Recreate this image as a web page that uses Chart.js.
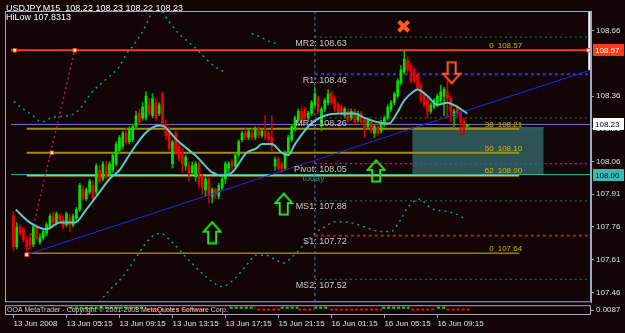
<!DOCTYPE html>
<html>
<head>
<meta charset="utf-8">
<script src="https://cdn.jsdelivr.net/npm/chart.js@4/dist/chart.umd.min.js"></script>
<style>
  html, body { margin: 0; padding: 0; background: #130505; }
  canvas { display: block; }
</style>
</head>
<body>
<canvas id="chart" width="625" height="333"></canvas>
<script>
// USDJPY M15 candles, bar index 0..137
const opens = [107.81,107.67,107.76,107.75,107.70,107.71,107.68,107.76,107.69,107.71,107.73,107.76,107.81,107.78,107.81,107.79,107.77,107.80,107.77,107.80,
  107.84,107.93,107.89,107.92,107.95,107.92,108.02,107.98,108.04,108.00,108.02,108.05,108.11,108.13,108.19,108.15,108.16,108.22,108.28,108.26,
  108.26,108.32,108.27,108.33,108.28,108.37,108.23,108.20,108.05,108.19,108.13,108.10,108.04,108.04,108.01,107.99,108.05,107.99,107.93,107.98,
  107.90,107.93,107.90,107.94,107.98,108.03,108.06,108.04,108.09,108.16,108.19,108.17,108.19,108.17,108.21,108.18,108.20,108.19,108.17,108.04,
  108.07,108.05,108.03,108.10,108.16,108.21,108.25,108.29,108.30,108.26,108.28,108.32,108.35,108.23,108.30,108.33,108.37,108.35,108.32,108.31,
  108.27,108.29,108.26,108.29,108.25,108.28,108.25,108.22,108.24,108.19,108.22,108.20,108.23,108.26,108.30,108.33,108.36,108.42,108.47,108.52,
  108.50,108.48,108.46,108.41,108.37,108.34,108.29,108.31,108.32,108.34,108.36,108.38,108.35,108.27,108.31,108.28,108.25,108.22];
const highs = [107.83,107.78,107.77,107.76,107.72,107.73,107.77,107.77,107.73,107.75,107.78,107.82,107.83,107.83,107.82,107.81,107.83,107.82,107.82,107.85,
  107.96,107.95,107.94,107.98,107.97,108.05,108.04,108.06,108.06,108.06,108.10,108.15,108.18,108.20,108.21,108.22,108.23,108.29,108.30,108.33,
  108.38,108.35,108.37,108.35,108.33,108.38,108.25,108.22,108.16,108.20,108.14,108.12,108.09,108.06,108.06,108.06,108.06,108.00,107.99,107.99,
  107.94,107.94,107.96,107.99,108.06,108.06,108.07,108.10,108.16,108.20,108.21,108.21,108.21,108.22,108.22,108.21,108.27,108.20,108.27,108.08,
  108.08,108.06,108.11,108.18,108.23,108.27,108.30,108.31,108.31,108.29,108.34,108.40,108.36,108.31,108.35,108.39,108.38,108.36,108.33,108.32,
  108.31,108.30,108.30,108.30,108.29,108.29,108.26,108.26,108.25,108.23,108.23,108.25,108.27,108.32,108.34,108.38,108.44,108.50,108.57,108.54,
  108.51,108.49,108.47,108.42,108.38,108.35,108.33,108.35,108.37,108.41,108.40,108.43,108.36,108.30,108.32,108.29,108.26,108.23];
const lows = [107.65,107.66,107.72,107.69,107.63,107.66,107.67,107.70,107.68,107.70,107.72,107.75,107.77,107.77,107.78,107.75,107.76,107.74,107.76,107.79,
  107.83,107.88,107.88,107.91,107.88,107.91,107.96,107.97,107.98,107.99,108.01,108.04,108.10,108.12,108.14,108.14,108.15,108.21,108.23,108.25,
  108.25,108.27,108.26,108.25,108.27,108.22,108.16,108.11,108.03,108.09,108.06,108.01,108.02,107.97,108.00,107.97,107.94,107.91,107.90,107.87,
  107.87,107.89,107.89,107.93,107.96,108.01,108.02,108.03,108.08,108.15,108.16,108.16,108.16,108.16,108.17,108.17,108.16,108.15,108.11,108.02,
  108.02,108.01,108.02,108.09,108.15,108.20,108.24,108.24,108.25,108.25,108.27,108.31,108.28,108.20,108.29,108.32,108.32,108.29,108.28,108.27,
  108.26,108.24,108.25,108.23,108.24,108.23,108.17,108.21,108.19,108.17,108.18,108.19,108.22,108.25,108.29,108.32,108.35,108.41,108.46,108.47,
  108.42,108.42,108.39,108.33,108.31,108.26,108.28,108.30,108.31,108.33,108.27,108.26,108.24,108.22,108.26,108.18,108.18,108.21];
const closes = [107.67,107.76,107.73,107.70,107.67,107.68,107.76,107.71,107.71,107.74,107.77,107.81,107.78,107.82,107.79,107.76,107.82,107.77,107.81,107.84,
  107.95,107.89,107.93,107.97,107.89,108.04,107.97,108.05,107.99,108.05,108.09,108.14,108.17,108.19,108.15,108.21,108.22,108.27,108.24,108.31,
  108.36,108.28,108.35,108.26,108.32,108.23,108.18,108.12,108.15,108.10,108.07,108.05,108.08,108.00,108.04,108.05,107.96,107.94,107.98,107.91,
  107.93,107.91,107.95,107.98,108.05,108.05,108.04,108.09,108.15,108.19,108.17,108.20,108.17,108.21,108.18,108.20,108.17,108.16,108.13,108.07,
  108.03,108.03,108.10,108.17,108.22,108.26,108.29,108.25,108.26,108.28,108.33,108.37,108.29,108.30,108.34,108.37,108.33,108.30,108.29,108.28,
  108.30,108.25,108.29,108.24,108.28,108.24,108.21,108.25,108.20,108.22,108.19,108.24,108.26,108.31,108.33,108.37,108.43,108.48,108.53,108.48,
  108.43,108.43,108.40,108.34,108.32,108.29,108.32,108.34,108.36,108.38,108.39,108.35,108.29,108.29,108.28,108.24,108.21,108.23];

// moving average
const maIdx = [0.7,5,10,14,18.5,22,26,29,32,35,39.8,44,45.5,49.6,55.5,60,63,66,70.4,73.3,75,78,81,83,85,89.6,94,98.5,103,106,110,113.3,115.7,118,120.7,122,125,128,131,134,137];
const maVal = [107.84,107.78,107.75,107.78,107.78,107.84,107.92,107.98,108.02,108.09,108.19,108.225,108.22,108.155,108.08,108.01,107.996,108.01,108.10,108.12,108.14,108.14,108.10,108.09,108.14,108.23,108.27,108.28,108.28,108.26,108.24,108.234,108.28,108.34,108.38,108.39,108.36,108.32,108.33,108.31,108.28];

// dotted forecast curves
const upperIdx = [0.15,2.2,5.2,8.7,12,16.1,19.4,23.9,28.9,31.9,33.9,36.9,39.9,41.6,44,46.7,50.5,54.7,58.5,60.9,63.9];
const upperVal = [108.336,108.309,108.278,108.242,108.264,108.269,108.291,108.381,108.449,108.494,108.548,108.606,108.682,108.736,108.76,108.705,108.638,108.584,108.525,108.494,108.47];
const upper2Idx = [71.9,74.8,77.2,79.3];
const upper2Val = [108.647,108.629,108.611,108.602];
const lowerIdx = [25.9,28.9,32.7,36.9,39.9,42.8,44.6,47.6,50.5,54.1,58.5,63,66.8,70.4,73.3,76.3,78.7,81.6,84.3,88.1,90.5,94.1,97,102,105.9,110.9,113.9,116.9,118.7,121.3,122.8,124.6,127.3,130.2,133.5,136.4];
const lowerVal = [107.415,107.469,107.527,107.617,107.685,107.725,107.730,107.694,107.649,107.590,107.527,107.487,107.523,107.586,107.631,107.631,107.613,107.595,107.626,107.685,107.725,107.761,107.784,107.779,107.761,107.739,107.739,107.793,107.842,107.882,107.887,107.864,107.838,107.833,107.820,107.797];

// levels
const pivotNames = ['MR2', 'R1', 'MR1', 'Pivot', 'MS1', 'S1', 'MS2'];
const pivotVals = [108.63, 108.46, 108.26, 108.05, 107.88, 107.72, 107.52];
const pivotColors = ['#1d6b3e', '#3434d8', '#1d6b3e', '#d400d4', '#1d6b3e', '#9a2222', '#1d6b3e'];
const pivotStart = 91;
const fibNames = ['0', '38', '50', '62', '0'];
const fibVals = [108.57, 108.21, 108.10, 108.00, 107.64];
const fibColors = ['#ff3c14', '#a08e16', '#a08e16', '#e0c800', '#d8c000'];
const fibStart = 4.0, fibEnd = 152.7;
const fibBoxIdx = [120.4, 160.1];
const fibBoxTop = 108.215, fibBoxBottom = 108.0;
const highLine = 108.57, bidLine = 108.23, tealLine = 108.00;
const trendIdx = [4.0, 174.37], trendVal = [107.633, 108.48];
const fibLineIdx = [4.0, 18.5], fibLineVal = [107.633, 108.57];
const handleIdx = [0.4, 18.5, 11.6, 4.0, 173.6];
const handleVal = [108.57, 108.57, 108.10, 107.633, 108.57];
const todayIdx = 91;

// arrows and marks
const upArrowIdx = [60, 81.6, 109.5], upArrowVal = [107.734, 107.865, 108.017];
const downArrowIdx = [132.3], downArrowVal = [108.467];
const crossIdx = [117.8], crossVal = [108.68];

// lower panel oscillator segments (bar index ranges)
const oscUp = [[17, 40], [65.3, 73], [80.7, 86], [90.8, 95], [111.3, 119.6], [127.9, 130.8]];
const oscDown = [[40, 58.2], [73.6, 80.7], [86, 90.8], [95.6, 111.3], [120.1, 127.3], [130.8, 137.9]];

// axes
const xTickPos = [0, 16, 32, 48, 64, 80, 96, 112, 128];
const xTickLabels = ['13 Jun 2008', '13 Jun 05:15', '13 Jun 09:15', '13 Jun 13:15', '13 Jun 17:15', '15 Jun 21:15', '16 Jun 01:15', '16 Jun 05:15', '16 Jun 09:15'];
const yTickVals = [108.66, 108.36, 108.21, 108.06, 107.91, 107.76, 107.61, 107.46];
const panelLabel = '0.0087';

const FONT = '"Liberation Sans", Arial, sans-serif';
const X_MIN = -0.74, X_MAX = 174.37, Y_MIN = 107.415, Y_MAX = 108.75;

function arrowIcon(color, down) {
  const c = document.createElement('canvas');
  c.width = 20; c.height = 24;
  const g = c.getContext('2d');
  if (down) { g.translate(0, 24); g.scale(1, -1); }
  g.beginPath();
  g.moveTo(10, 1.5); g.lineTo(18.5, 11); g.lineTo(14, 11); g.lineTo(14, 22.5);
  g.lineTo(6, 22.5); g.lineTo(6, 11); g.lineTo(1.5, 11); g.closePath();
  g.strokeStyle = color; g.lineWidth = 2; g.stroke();
  return c;
}

const pts = (xs, ys) => xs.map((x, i) => ({ x, y: ys[i] }));
const hline = (a, b, v) => [{ x: a, y: v }, { x: b, y: v }];
const segs = (list, v) => {
  const out = [];
  list.forEach(s => { out.push({ x: s[0], y: v }, { x: s[1], y: v }, { x: s[1], y: null }); });
  return out;
};

const bodyData = opens.map((o, i) => ({ x: i, y: [o, closes[i]] }));
const wickData = highs.map((h, i) => ({ x: i, y: [lows[i], h] }));
const isUp = opens.map((o, i) => closes[i] >= o);

const lineDs = (data, color, width, dash, order, extra) => Object.assign({
  type: 'line', data, borderColor: color, borderWidth: width, borderDash: dash || [],
  pointRadius: 0, fill: false, order, tension: 0
}, extra || {});

const datasets = [
  lineDs(pts(upArrowIdx, upArrowVal), 'transparent', 0, null, 0, { showLine: false, pointStyle: arrowIcon('#22e022', false), pointRadius: 10 }),
  lineDs(pts(downArrowIdx, downArrowVal), 'transparent', 0, null, 0, { showLine: false, pointStyle: arrowIcon('#ff5a1e', true), pointRadius: 10 }),
  lineDs(pts(crossIdx, crossVal), '#ff5a1e', 4, null, 0, { showLine: false, pointStyle: 'crossRot', pointRadius: 7, pointBorderWidth: 4, pointBorderColor: '#ff5a1e' }),
  lineDs(pts(handleIdx, handleVal), 'transparent', 0, null, 0, { showLine: false, pointStyle: 'rect', pointRadius: 2.5, pointBackgroundColor: '#ffffff', pointBorderColor: '#ff3c14', pointBorderWidth: 1 }),
  lineDs(hline(X_MIN, X_MAX, highLine), '#ff3c14', 2, null, 1),
  lineDs(pts(maIdx, maVal), '#5ccaca', 2, null, 2, { cubicInterpolationMode: 'monotone' }),
  lineDs(pts(trendIdx, trendVal), '#2626ea', 1, null, 2),
  {
    type: 'bar', data: bodyData, grouped: false, barThickness: 2, order: 4,
    backgroundColor: isUp.map(u => u ? '#00e400' : '#f00000'), borderWidth: 0
  },
  {
    type: 'bar', data: wickData, grouped: false, barThickness: 1, order: 5,
    backgroundColor: isUp.map(u => u ? '#00b400' : '#c80000'), borderWidth: 0
  },
  lineDs(pts(fibLineIdx, fibLineVal), '#b0204c', 1.5, [2, 3], 6),
  lineDs(pts(upperIdx, upperVal), '#239090', 1.5, [2, 4], 6, { cubicInterpolationMode: 'monotone' }),
  lineDs(pts(upper2Idx, upper2Val), '#239090', 1.5, [2, 4], 6, { cubicInterpolationMode: 'monotone' }),
  lineDs(pts(lowerIdx, lowerVal), '#239090', 1.5, [2, 4], 6, { cubicInterpolationMode: 'monotone' }),
  lineDs(hline(X_MIN, X_MAX, bidLine), '#7078c8', 1, null, 7),
  lineDs(hline(X_MIN, X_MAX, tealLine), '#3cb4ae', 1, null, 7),
  lineDs([{ x: todayIdx, y: Y_MAX }, { x: todayIdx, y: Y_MIN }], '#5a72b4', 1, [3, 3], 7),
  lineDs([{ x: 174, y: Y_MAX }, { x: 174, y: 108.48 }], '#ffffff', 3, null, 7),
  lineDs(segs(oscUp, 7.5), '#10d010', 2, [3, 2], 7, { yAxisID: 'y2', spanGaps: false }),
  lineDs(segs(oscDown, 5.5), '#e01010', 2, [3, 2], 7, { yAxisID: 'y2', spanGaps: false }),
  lineDs(hline(fibBoxIdx[0], fibBoxIdx[1], fibBoxTop), '#3a6868', 1, null, 10,
    { fill: { value: fibBoxBottom }, backgroundColor: '#2c5455' })
];

pivotVals.forEach((v, k) => {
  const dotted = k === 1 || k === 5 ? [3, 3] : [2, 3];
  const w = k === 1 || k === 5 ? 2 : 1.2;
  datasets.push(lineDs(hline(pivotStart, X_MAX, v), pivotColors[k], w, dotted, 8));
});
fibVals.forEach((v, k) => {
  if (k === 0) return;
  const w = k === 4 ? 1 : 2;
  datasets.push(lineDs(hline(fibStart, fibEnd, k === 3 ? v - 0.004 : v), fibColors[k], w, null, 7));
});

const decor = {
  id: 'decor',
  beforeDraw(chart) {
    const ctx = chart.ctx;
    ctx.save();
    ctx.fillStyle = '#130505';
    ctx.fillRect(0, 0, chart.width, chart.height);
    ctx.restore();
  },
  afterDatasetsDraw(chart) {
    const { ctx, scales } = chart;
    const x = scales.x, y = scales.y, y2 = scales.y2;
    ctx.save();
    // frames
    ctx.strokeStyle = '#a4a8c8';
    ctx.lineWidth = 1;
    ctx.strokeRect(5.5, y.top + 0.5, x.right - 6, y.bottom - y.top - 1);
    ctx.strokeRect(5.5, y2.getPixelForValue(10) + 0.5, x.right - 6, y2.getPixelForValue(0) - y2.getPixelForValue(10) - 1);

    // top-left info
    ctx.fillStyle = '#ffffff';
    ctx.font = '9px ' + FONT;
    ctx.textBaseline = 'middle';
    ctx.textAlign = 'left';
    ctx.fillText('USDJPY,M15  108.22 108.23 108.22 108.23', 6, 9);
    ctx.fillText('HiLow 107.8313', 6, 18);

    // pivot labels
    ctx.fillStyle = '#c8c8c8';
    ctx.textAlign = 'right';
    pivotVals.forEach((v, k) => {
      ctx.fillText(pivotNames[k] + ': ' + v.toFixed(2), x.getPixelForValue(100.6), y.getPixelForValue(v) + 6);
    });
    ctx.textAlign = 'left';
    ctx.fillStyle = '#2a8c8c';
    ctx.fillText('today', x.getPixelForValue(87.3), y.getPixelForValue(pivotVals[3]) + 15);

    // fib labels
    ctx.font = '8px ' + FONT;
    ctx.fillStyle = '#d2b800';
    fibVals.forEach((v, k) => {
      const py = y.getPixelForValue(v) - 4;
      ctx.textAlign = 'right';
      ctx.fillText(fibNames[k], x.getPixelForValue(145), py);
      ctx.textAlign = 'left';
      ctx.fillText(v.toFixed(2), x.getPixelForValue(146.2), py);
    });

    // copyright in lower panel
    ctx.font = '7px ' + FONT;
    ctx.fillStyle = '#d0d0d0';
    ctx.textAlign = 'left';
    ctx.fillText('OOA MetaTrader - Copyright \u00a9 2001-2008 MetaQuotes Software Corp.', 7, y2.getPixelForValue(5));

    // price boxes on the axis
    const box = (v, bg, fg) => {
      const py = Math.round(y.getPixelForValue(v));
      ctx.fillStyle = bg;
      ctx.fillRect(x.right + 2, py - 6, 31, 12);
      ctx.fillStyle = fg;
      ctx.font = '8px ' + FONT;
      ctx.textAlign = 'left';
      ctx.fillText(v.toFixed(2), x.right + 4, py + 0.5);
    };
    box(highLine, '#ff3c14', '#ffffff');
    box(bidLine, '#ffffff', '#000000');
    box(tealLine, '#40b8b0', '#10104a');
    ctx.restore();
  }
};

Chart.defaults.font.family = FONT;

new Chart(document.getElementById('chart'), {
  type: 'bar',
  data: { datasets },
  plugins: [decor],
  options: {
    responsive: false,
    animation: false,
    devicePixelRatio: 1,
    layout: { padding: { top: 5, left: 0, right: 0, bottom: 0 } },
    plugins: { legend: { display: false }, tooltip: { enabled: false } },
    scales: {
      x: {
        type: 'linear', position: 'bottom', min: X_MIN, max: X_MAX, offset: false,
        afterBuildTicks: s => { s.ticks = xTickPos.map(v => ({ value: v })); },
        afterFit: s => { s.height = 18; },
        ticks: {
          align: 'start', maxRotation: 0, autoSkip: false, padding: 1, color: '#e0e0e0',
          font: { size: 8 },
          callback: v => xTickLabels[xTickPos.indexOf(v)]
        },
        grid: { drawOnChartArea: false, offset: false, tickLength: 3, color: '#a4a8c8' },
        border: { display: false }
      },
      y: {
        type: 'linear', position: 'right', stack: 'v', stackWeight: 297,
        min: Y_MIN, max: Y_MAX,
        afterBuildTicks: s => { s.ticks = yTickVals.map(v => ({ value: v })); },
        afterFit: s => { s.width = 34; },
        ticks: { color: '#e0e0e0', padding: 2, font: { size: 8 }, callback: v => v.toFixed(2) },
        grid: { drawOnChartArea: false, tickLength: 3, color: '#a4a8c8' },
        border: { display: true, color: '#a4a8c8' }
      },
      y2: {
        type: 'linear', position: 'right', stack: 'v', stackWeight: 13,
        min: 0, max: 13,
        afterBuildTicks: s => { s.ticks = [{ value: 5 }]; },
        afterFit: s => { s.width = 34; },
        ticks: { color: '#e0e0e0', padding: 2, font: { size: 8 }, callback: () => panelLabel },
        grid: { drawOnChartArea: false, tickLength: 3, color: '#a4a8c8' },
        border: { display: false }
      }
    }
  }
});
</script>
</body>
</html>
